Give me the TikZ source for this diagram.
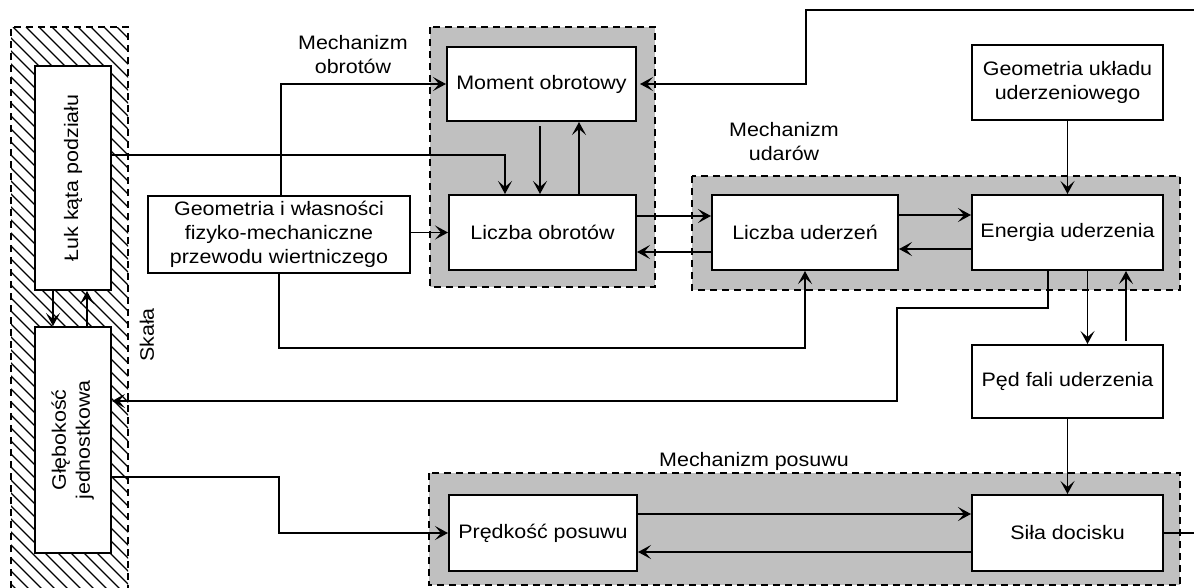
\documentclass[tikz,border=0pt]{standalone}
\usepackage{fontspec}
\setmainfont{Liberation Sans}[FakeStretch=1.1]
\usepackage{graphicx}
\usetikzlibrary{arrows.meta}
\definecolor{shadegray}{HTML}{C0C0C0}
\tikzset{
  box/.style={draw, line width=2pt, fill=white, rectangle, inner sep=2pt, align=center},
  grp/.style={draw, line width=1.6pt, fill=shadegray, dash pattern=on 7pt off 5pt},
  arr/.style={line width=1.9pt, -{Stealth[length=13pt,width=14pt,inset=6pt]}},
  lbl/.style={align=center, inner sep=0pt},
}
\begin{document}
\begin{tikzpicture}[x=1pt,y=-1pt,font=\fontsize{19.5}{24}\selectfont]
\useasboundingbox (0,0) rectangle (1194,587);
\fill[white] (0,0) rectangle (1194,587);

% hatched rock area
\begin{scope}
  \clip (11,27) rectangle (128,600);
  \foreach \i in {-650,-637,...,130} {
    \draw[line width=1.1pt] (\i,27) -- ++(620,620);
  }
\end{scope}
\draw[line width=1.6pt, dash pattern=on 7pt off 5pt] (11,600) -- (11,27) -- (128,27) -- (128,600);

% group backgrounds
\draw[grp] (430,27) rectangle (655,287);
\draw[grp] (692,176) rectangle (1180,290);
\draw[grp] (429,473) rectangle (1180,585);

% labels
\node[lbl] (lobrlbl) at (353,55) {Mechanizm\\obrotów};
\node[lbl] (ludlbl) at (784,142) {Mechanizm\\udarów};
\node[lbl] (lposlbl) at (754,461) {Mechanizm posuwu};
\node[lbl] (skala) at (147,335) {\rotatebox{90}{Skała}};

% boxes
\node[box, minimum width=76pt, minimum height=224pt] (luk) at (73,178) {\rotatebox{90}{Łuk kąta podziału}};
\node[box, minimum width=76pt, minimum height=226pt] (gleb) at (73,440) {\rotatebox{90}{\begin{tabular}{@{}c@{}}Głębokość\\jednostkowa\end{tabular}}};
\node[box, minimum width=262pt, minimum height=77pt] (geomw) at (279,234.5) {Geometria i własności\\fizyko-mechaniczne\\przewodu wiertniczego};
\node[box, minimum width=189pt, minimum height=74pt] (moment) at (541.5,84) {Moment obrotowy};
\node[box, minimum width=187pt, minimum height=75pt] (lobr) at (542.5,232.5) {Liczba obrotów};
\node[box, minimum width=186pt, minimum height=75pt] (luder) at (805,232.5) {Liczba uderzeń};
\node[box, minimum width=191pt, minimum height=75pt] (energia) at (1067.5,232.5) {Energia uderzenia};
\node[box, minimum width=191pt, minimum height=75pt] (geomu) at (1067.5,82.5) {Geometria układu\\uderzeniowego};
\node[box, minimum width=191pt, minimum height=73pt] (ped) at (1067.5,381.5) {Pęd fali uderzenia};
\node[box, minimum width=188pt, minimum height=76pt] (pred) at (543,533) {Prędkość posuwu};
\node[box, minimum width=191pt, minimum height=76pt] (sila) at (1067.5,533) {Siła docisku};

% connectors
\draw[arr] ([xshift=-20pt]luk.south) -- ([xshift=-20pt]luk.south |- gleb.north);
\draw[arr] ([xshift=14pt]gleb.north) -- ([xshift=14pt]gleb.north |- luk.south);
\draw[arr] ([yshift=23pt]luk.east) -| ([xshift=-37.5pt]lobr.north);
\draw[arr] ([xshift=2pt]geomw.north) |- (moment.west);
\draw[arr] ([yshift=2pt]geomw.east) -- ([yshift=2pt]geomw.east -| lobr.west);
\draw[arr] ([xshift=-1.5pt,yshift=-4pt]moment.south) -- ([xshift=-1.5pt]moment.south |- lobr.north);
\draw[arr] ([xshift=36.5pt]lobr.north) -- ([xshift=36.5pt]lobr.north |- moment.south);
\draw[arr] ([yshift=16.5pt]lobr.east) -- ([yshift=16.5pt]lobr.east -| luder.west);
\draw[arr] ([yshift=-19.5pt]luder.west) -- ([yshift=-19.5pt]luder.west -| lobr.east);
\draw[arr] ([yshift=17.5pt]luder.east) -- ([yshift=17.5pt]luder.east -| energia.west);
\draw[arr] ([yshift=-16.5pt]energia.west) -- ([yshift=-16.5pt]energia.west -| luder.east);
\draw[arr] (geomu.south) -- (energia.north);
\draw[arr] (geomw.south) -- ++(0,74) -| (luder.south);
\draw[arr] ([xshift=-19.5pt]energia.south) |- (897,308) |- ([yshift=39pt]gleb.east);
\draw[arr] ([xshift=20pt]energia.south) -- ([xshift=20pt]energia.south |- ped.north);
\draw[arr] ([xshift=58.5pt,yshift=3pt]ped.north) -- ([xshift=58.5pt]ped.north |- energia.south);
\draw[arr] (ped.south) -- (sila.north);
\draw[arr] ([yshift=-37pt]gleb.east) -- (279,477) |- (pred.west);
\draw[arr] ([yshift=19pt]pred.east) -- ([yshift=19pt]pred.east -| sila.west);
\draw[arr] ([yshift=-19pt]sila.west) -- ([yshift=-19pt]sila.west -| pred.east);
\draw[arr] (sila.east) -- (1215,533) -- (1215,10) -- (806,10) |- ([xshift=3pt]moment.east);
\end{tikzpicture}
\end{document}
